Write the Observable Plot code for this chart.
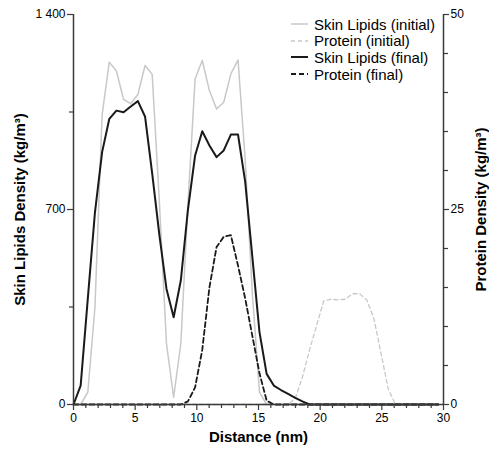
<!DOCTYPE html>
<html>
<head>
<meta charset="utf-8">
<script src="https://cdn.jsdelivr.net/npm/d3@7"></script>
<script src="https://cdn.jsdelivr.net/npm/@observablehq/plot@0.6"></script>
<style>
  html, body { margin: 0; padding: 0; background: #fff; }
  #wrap { position: relative; width: 489px; height: 452px; font-family: "Liberation Sans", Arial, sans-serif; }
  #legend { position: absolute; left: 291px; top: 16px; font-size: 15px; color: #000; }
  .row { display: flex; align-items: center; height: 16.6px; white-space: nowrap; }
  .row svg { margin-right: 6px; }
</style>
</head>
<body>
<div id="wrap"><div id="legend"></div></div>
<script>
// Distance (nm)
const distance = [0, 0.58, 1.16, 1.74, 2.32, 2.90, 3.48, 4.06, 4.64, 5.22, 5.80, 6.38, 6.96, 7.54, 8.12, 8.70,
  9.28, 9.86, 10.44, 11.02, 11.60, 12.18, 12.76, 13.34, 13.92, 14.50, 15.08, 15.66, 16.24, 16.82, 17.40, 17.98,
  18.56, 19.14, 19.72, 20.30, 20.88, 21.46, 22.04, 22.62, 23.20, 23.78, 24.36, 24.94, 25.52, 26.10, 26.68, 27.26,
  27.84, 28.42, 29.00, 29.58];
// Skin lipids density (kg/m3), left axis
const lipidsInitial = [0, 0, 44, 350, 1040, 1229, 1197, 1095, 1080, 1113, 1217, 1185, 730, 218, 26, 218,
  720, 1169, 1235, 1127, 1061, 1085, 1187, 1237, 880, 400, 44, 0, 0, 0, 0, 0,
  0, 0, 0, 0, 0, 0, 0, 0, 0, 0, 0, 0, 0, 0, 0, 0, 0, 0, 0, 0];
const lipidsFinal = [0, 68, 380, 690, 906, 1025, 1055, 1049, 1070, 1089, 1034, 830, 610, 415, 313, 445,
  700, 894, 981, 930, 888, 912, 969, 969, 800, 530, 260, 110, 68, 52, 38, 24,
  11, 0, 0, 0, 0, 0, 0, 0, 0, 0, 0, 0, 0, 0, 0, 0, 0, 0, 0, 0];
// Protein density (kg/m3), right axis
const proteinInitial = [0, 0, 0, 0, 0, 0, 0, 0, 0, 0, 0, 0, 0, 0, 0, 0,
  0, 0, 0, 0, 0, 0, 0, 0, 0, 0, 0, 0, 0, 0, 0, 0.8,
  3.5, 7, 10.2, 13.3, 13.5, 13.4, 13.5, 14.2, 14.2, 13.4, 11, 6.5, 2, 0, 0, 0, 0, 0, 0, 0];
const proteinFinal = [0, 0, 0, 0, 0, 0, 0, 0, 0, 0, 0, 0, 0, 0, 0, 0,
  0.4, 2.2, 7, 15, 20.2, 21.5, 21.7, 17.8, 13.6, 8.8, 4, 0.5, 0, 0, 0, 0,
  0, 0, 0, 0, 0, 0, 0, 0, 0, 0, 0, 0, 0, 0, 0, 0, 0, 0, 0, 0];

const xTicks = [0, 5, 10, 15, 20, 25, 30];
const xMinorTicks = [1, 2, 3, 4, 6, 7, 8, 9, 11, 12, 13, 14, 16, 17, 18, 19, 21, 22, 23, 24, 26, 27, 28, 29];
const yTicks = [0, 700, 1400];
const yTickLabels = ["0", "700", "1 400"];
const yMinorTicks = [350, 1050];
const y2Ticks = [0, 25, 50];
const y2MinorTicks = [5, 10, 15, 20, 30, 35, 40, 45];

const lipidMax = 1400, proteinMax = 50;
const k = lipidMax / proteinMax;

const legendLabels = ["Skin Lipids (initial)", "Protein (initial)", "Skin Lipids (final)", "Protein (final)"];
const legendColors = ["#c8c8c8", "#c8c8c8", "#1a1a1a", "#1a1a1a"];
const legendDash = ["none", "4,3", "none", "5,3"];
const legendWidth = [1.5, 1.3, 2, 1.8];

const rows = distance.map((x, i) => ({x, li: lipidsInitial[i], lf: lipidsFinal[i], pi: proteinInitial[i], pf: proteinFinal[i]}));

const axisColor = "#3a3a3a";

const chart = Plot.plot({
  width: 489, height: 452,
  marginLeft: 73, marginRight: 46, marginTop: 14, marginBottom: 48,
  style: {fontFamily: "'Liberation Sans', Arial, sans-serif", fontSize: "12px", background: "transparent", color: "#000"},
  x: {domain: [0, 30]},
  y: {domain: [0, lipidMax]},
  marks: [
    Plot.line(rows, {x: "x", y: "li", stroke: legendColors[0], strokeWidth: legendWidth[0]}),
    Plot.line(rows, {x: "x", y: d => d.pi * k, stroke: legendColors[1], strokeWidth: legendWidth[1], strokeDasharray: legendDash[1]}),
    Plot.line(rows, {x: "x", y: "lf", stroke: legendColors[2], strokeWidth: legendWidth[2]}),
    Plot.line(rows, {x: "x", y: d => d.pf * k, stroke: legendColors[3], strokeWidth: legendWidth[3], strokeDasharray: legendDash[3]}),
    Plot.ruleY([0], {stroke: axisColor, strokeWidth: 1.5}),
    Plot.ruleX([0], {stroke: axisColor, strokeWidth: 1.5}),
    Plot.ruleX([30], {stroke: axisColor, strokeWidth: 1.5}),
    Plot.axisX(xTicks, {tickSize: 6, tickPadding: 3, stroke: axisColor, strokeWidth: 1.2, label: null}),
    Plot.axisX(xMinorTicks, {tickSize: 4, tickFormat: () => "", stroke: axisColor, strokeWidth: 1.2, label: null}),
    Plot.axisY(yTicks, {anchor: "left", tickSize: 6, tickPadding: 2, stroke: axisColor, strokeWidth: 1.2, tickFormat: d => yTickLabels[yTicks.indexOf(d)], label: null}),
    Plot.axisY(yMinorTicks, {anchor: "left", tickSize: 4, tickFormat: () => "", stroke: axisColor, strokeWidth: 1.2, label: null}),
    Plot.axisY(y2Ticks.map(v => v * k), {anchor: "right", tickSize: 5, tickPadding: 2, stroke: axisColor, strokeWidth: 1.2, tickFormat: d => String(Math.round(d / k)), label: null}),
    Plot.axisY(y2MinorTicks.map(v => v * k), {anchor: "right", tickSize: 4, tickFormat: () => "", stroke: axisColor, strokeWidth: 1.2, label: null}),
    Plot.text(["Distance (nm)"], {frameAnchor: "bottom", dy: 33, text: d => d, fontWeight: "bold", fontSize: 15, lineAnchor: "middle", textAnchor: "middle"}),
    Plot.text(["Skin Lipids Density (kg/m³)"], {frameAnchor: "left", dx: -53, rotate: -90, text: d => d, fontWeight: "bold", fontSize: 15, lineAnchor: "middle", textAnchor: "middle"}),
    Plot.text(["Protein Density (kg/m³)"], {frameAnchor: "right", dx: 38, rotate: -90, text: d => d, fontWeight: "bold", fontSize: 15, lineAnchor: "middle", textAnchor: "middle"})
  ]
});
document.getElementById("wrap").prepend(chart);

const legend = document.getElementById("legend");
legendLabels.forEach((lab, i) => {
  const row = document.createElement("div");
  row.className = "row";
  row.innerHTML = `<svg width="17" height="6"><line x1="0" x2="17" y1="3" y2="3" stroke="${legendColors[i]}" stroke-width="${legendWidth[i]}" ${legendDash[i] !== "none" ? `stroke-dasharray="${legendDash[i]}"` : ""}/></svg><span>${lab}</span>`;
  legend.appendChild(row);
});
</script>
</body>
</html>
